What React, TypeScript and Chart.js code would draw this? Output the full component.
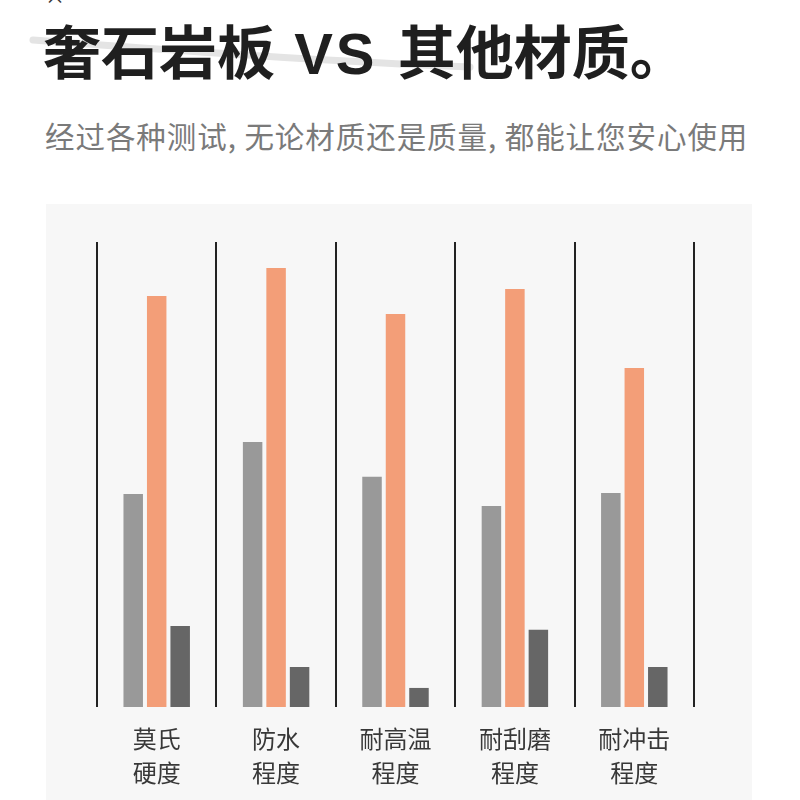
import React, { useEffect, useRef } from "react";
import { Chart, registerables } from "chart.js";

Chart.register(...registerables);

const categories: string[][] = [
  ["莫氏", "硬度"],
  ["防水", "程度"],
  ["耐高温", "程度"],
  ["耐刮磨", "程度"],
  ["耐冲击", "程度"],
];
const seriesGray: number[] = [45.8, 57.0, 49.5, 43.2, 46.0];
const seriesSlate: number[] = [88.4, 94.4, 84.5, 89.9, 72.9];
const seriesDark: number[] = [17.4, 8.6, 4.1, 16.6, 8.6];
const seriesNames: string[] = ["其他材质A", "奢石岩板", "其他材质B"];

const FONT = "'Noto Sans CJK SC', 'Noto Sans', sans-serif";
const LATIN = "'Liberation Sans', Arial, sans-serif";

function BarChart() {
  const ref = useRef<HTMLCanvasElement | null>(null);
  useEffect(() => {
    if (!ref.current) return;
    const chart = new Chart(ref.current, {
      type: "bar",
      data: {
        labels: categories,
        datasets: [
          { label: seriesNames[0], data: seriesGray, backgroundColor: "#999999" },
          { label: seriesNames[1], data: seriesSlate, backgroundColor: "#F39E78" },
          { label: seriesNames[2], data: seriesDark, backgroundColor: "#666666" },
        ],
      },
      options: {
        animation: false,
        responsive: false,
        maintainAspectRatio: false,
        layout: { padding: { left: 51, right: 58, top: 38, bottom: 0 } },
        datasets: { bar: { categoryPercentage: 0.59, barPercentage: 0.83 } },
        plugins: { legend: { display: false }, tooltip: { enabled: false } },
        scales: {
          x: {
            offset: true,
            grid: {
              offset: true,
              display: true,
              drawOnChartArea: true,
              drawTicks: false,
              color: "#222222",
              lineWidth: 2,
            },
            border: { display: false },
            ticks: {
              color: "#383838",
              padding: 14,
              font: { family: FONT, size: 24, lineHeight: 1.45 },
              maxRotation: 0,
              autoSkip: false,
            },
            afterFit: (scale: any) => {
              scale.height = 93;
            },
          },
          y: {
            display: false,
            min: 0,
            max: 100,
          },
        },
      },
    });
    return () => chart.destroy();
  }, []);
  return (
    <canvas
      ref={ref}
      width={706}
      height={596}
      style={{ position: "absolute", left: 46, top: 204, width: 706, height: 596, background: "#f7f7f7" }}
    />
  );
}

export default function App() {
  return (
    <div
      style={{
        position: "fixed",
        left: 0,
        top: 0,
        width: 800,
        height: 800,
        overflow: "hidden",
        background: "#ffffff",
        fontFamily: FONT,
      }}
    >
      <span style={{ position: "absolute", left: 45, top: -14, fontSize: 20, color: "#333", lineHeight: 1 }}>×</span>
      <svg width={800} height={120} style={{ position: "absolute", left: 0, top: 0 }}>
        <path d="M33 40 Q 300 60 470 67" stroke="#e4e4e4" strokeWidth={7} fill="none" strokeLinecap="round" />
      </svg>
      <div
        style={{
          position: "absolute",
          left: 43,
          top: 20,
          fontSize: 58,
          fontWeight: 700,
          lineHeight: 1,
          color: "#1f1f1f",
          whiteSpace: "nowrap",
        }}
      >
        奢石岩板
        <span style={{ fontFamily: LATIN, fontWeight: 700, letterSpacing: 3, marginRight: 1 }}>{" VS "}</span>
        其他材质。
      </div>
      <div
        style={{
          position: "absolute",
          left: 45,
          top: 121,
          fontSize: 29.5,
          letterSpacing: 0.95,
          lineHeight: 1,
          color: "#7a7a7a",
          whiteSpace: "nowrap",
        }}
      >
        经过各种测试, 无论材质还是质量, 都能让您安心使用
      </div>
      <BarChart />
    </div>
  );
}
